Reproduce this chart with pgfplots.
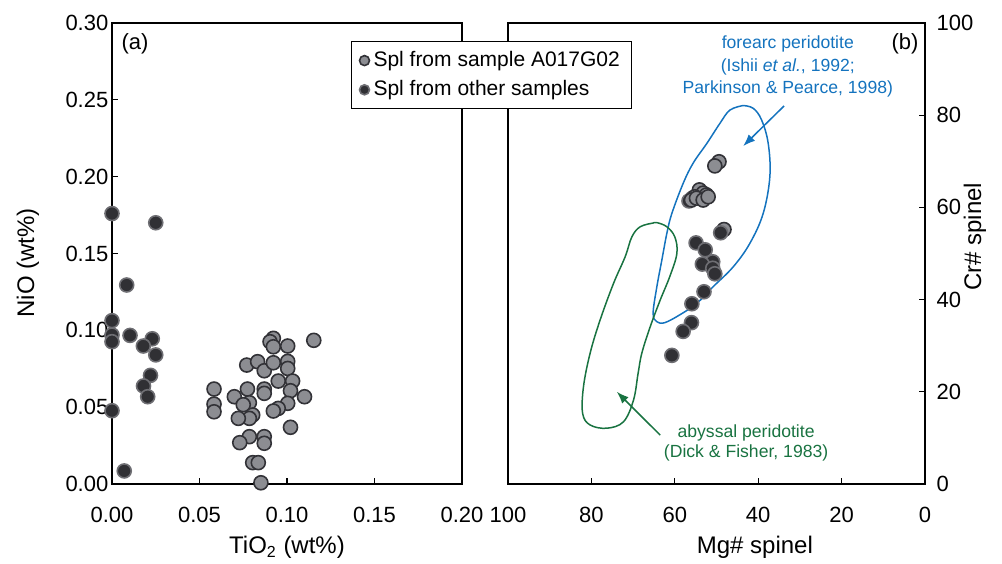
\documentclass[border=0pt]{standalone}
\usepackage{fontspec}
\setmainfont{Liberation Sans}
\usepackage{pgfplots}
\pgfplotsset{compat=1.18}
\usetikzlibrary{arrows.meta}
\definecolor{grayfill}{RGB}{140,141,146}
\definecolor{grayedge}{RGB}{50,50,55}
\definecolor{darkfill}{RGB}{48,48,52}
\definecolor{darkedge}{RGB}{110,110,115}
\definecolor{forearc}{RGB}{20,115,190}
\definecolor{abyssal}{RGB}{25,115,65}
\pgfplotsset{
  every axis/.append style={
    scale only axis, font=\fontsize{11}{13}\selectfont,
    tick align=inside, major tick length=3pt,
    axis line style={line width=0.75pt},
    every tick/.style={black, line width=0.6pt},
    /pgf/number format/assume math mode=true, clip=false,
    ticklabel style={font=\fontsize{11}{13}\selectfont},
    label style={font=\fontsize{12}{14}\selectfont},
  },
  samplA/.style={only marks, mark=*, mark size=3.5pt, mark options={fill=grayfill, draw=grayedge, line width=0.8pt}},
  samplB/.style={only marks, mark=*, mark size=3.5pt, mark options={fill=darkfill, draw=darkedge, line width=0.8pt}},
}
\begin{document}
\begin{tikzpicture}
\useasboundingbox (0,0) rectangle (501pt,281.5pt);
% ---------------- panel (a)
\begin{axis}[at={(56pt,39.5pt)}, anchor=south west, width=175pt, height=230.5pt,
  xmin=0, xmax=0.2, ymin=0, ymax=0.3,
  xtick={0,0.05,0.1,0.15,0.2}, xticklabels={0.00,0.05,0.10,0.15,0.20},
  ytick={0,0.05,0.1,0.15,0.2,0.25,0.3}, yticklabels={0.00,0.05,0.10,0.15,0.20,0.25,0.30},
  xtick pos=bottom, ytick pos=left,
  xticklabel style={yshift=-7.8pt}, yticklabel style={xshift=1.7pt},
  xlabel={TiO\textsubscript{2} (wt\%)}, ylabel={NiO (wt\%)},
  xlabel style={at={(axis description cs:0.5,-0.138)}, anchor=center},
  ylabel style={at={(axis description cs:-0.24,0.48)}, anchor=center},
]
\addplot[samplB] coordinates {
(0,0.176) (0.025,0.170) (0.0084,0.1295) (0,0.1063) (0,0.097) (0,0.0926)
(0.0103,0.0967) (0.023,0.0945) (0.0179,0.0898) (0.025,0.084) (0.022,0.0707)
(0.018,0.0638) (0.0204,0.0568) (0,0.0477) (0.007,0.0085)};
\addplot[samplA] coordinates {
(0.0583,0.0618) (0.0583,0.052) (0.0583,0.047) (0.0922,0.0948) (0.0903,0.0926)
(0.0922,0.0893) (0.1004,0.0898) (0.1153,0.0935) (0.077,0.0774) (0.0832,0.0796)
(0.087,0.0737) (0.0922,0.0789) (0.1004,0.0798) (0.1004,0.0752) (0.095,0.067)
(0.1032,0.067) (0.102,0.0607) (0.110,0.0568) (0.0774,0.0618) (0.087,0.0618)
(0.087,0.059) (0.0699,0.0568) (0.0785,0.0529) (0.075,0.0516) (0.1004,0.0525)
(0.095,0.0492) (0.0922,0.0475) (0.0804,0.0449) (0.0785,0.0427) (0.0722,0.0427)
(0.102,0.0369) (0.0785,0.0308) (0.073,0.0269) (0.087,0.0308) (0.087,0.0265)
(0.0804,0.0139) (0.0836,0.0139) (0.0851,0.0008)};
\node[font=\fontsize{11}{13}\selectfont] at (axis description cs:0.066,0.954) {(a)};
\end{axis}
% ---------------- panel (b)
\begin{axis}[at={(254pt,39.5pt)}, anchor=south west, width=208.5pt, height=230.5pt,
  xmin=0, xmax=100, ymin=0, ymax=100, x dir=reverse,
  xtick={0,20,40,60,80,100}, ytick={0,20,40,60,80,100},
  xtick pos=bottom, ytick pos=right, yticklabel pos=right,
  xticklabel style={yshift=-7.8pt}, yticklabel style={xshift=2.3pt},
  xlabel={Mg\# spinel}, ylabel={Cr\# spinel},
  xlabel style={at={(axis description cs:0.592,-0.138)}, anchor=center},
  ylabel style={at={(axis description cs:1.12,0.536)}, anchor=center, rotate=0},
  legend style={at={(axis description cs:-0.3765,0.961)}, anchor=north west,
    draw=black, line width=0.5pt, fill=white, inner xsep=4pt, inner ysep=3pt,
    font=\fontsize{10.5}{12.5}\selectfont, row sep=1.5pt},
  legend cell align=left,
  legend image code/.code={\draw[#1, mark size=2.5pt] plot coordinates {(0.12cm,0cm)};},
]
\addlegendimage{samplA}
\addlegendentry{Spl from sample A017G02}
\addlegendimage{samplB}
\addlegendentry{Spl from other samples}
% fields
\addplot[forearc, line width=0.75pt, smooth, tension=0.6, forget plot] coordinates {
(43.6,82.1) (46.8,81.1) (49.2,78.2) (52.3,73.9) (55.6,69.6) (58.0,65.2) (60.7,58.7)
(61.9,54.4) (63.1,48.6) (64.3,42.8) (65.2,37.0) (64.3,35.2) (62.4,35.0) (58.8,36.7)
(54.7,39.2) (50.8,42.8) (46.0,47.1) (42.0,52.2) (38.8,58.7) (37.2,66.7) (37.6,73.9)
(39.2,79.0) (41.2,81.5) (43.6,82.1)};
\addplot[abyssal, line width=0.75pt, smooth, tension=0.6, forget plot] coordinates {
(65.2,56.6) (68.3,55.8) (70.3,53.6) (71.9,49.3) (74.7,43.5) (77.9,35.6) (80.3,28.4)
(81.9,21.1) (82.1,15.3) (80.3,12.8) (76.3,12.1) (72.3,13.5) (69.9,18.2) (68.8,24.0)
(67.9,28.4) (65.9,34.1) (63.5,39.9) (61.2,45.0) (59.5,50.0) (60.0,53.6) (61.9,55.8)
(64.3,56.7) (65.2,56.6)};
\addplot[forearc, line width=0.75pt, -{Latex[length=6pt,width=4.5pt]}, forget plot] coordinates {(33.8,82.0) (43.6,73.3)};
\addplot[abyssal, line width=0.75pt, -{Latex[length=6pt,width=4.5pt]}, forget plot] coordinates {(63.5,10.6) (73.9,20.0)};
% points
\addplot[samplB, forget plot] coordinates {(56.6,61.4) (55.8,62.0)};
\addplot[samplA, forget plot] coordinates {
(49.4,69.9) (50.4,69.0) (54.1,63.8) (53.2,63.1) (52.4,62.7) (55.2,62.3) (56.0,61.6)
(54.8,62.0) (53.2,61.6) (52.0,62.3) (48.2,55.2)};
\addplot[samplB, forget plot] coordinates {
(49.0,54.5) (54.9,52.3) (52.7,50.8) (50.9,48.2) (53.4,47.7) (50.9,46.8) (50.4,45.6)
(53.0,41.7) (55.9,39.1) (56.0,35.0) (58.0,33.1) (60.7,27.9)};
\node[text=forearc, align=center, font=\fontsize{8.8}{11.25}\selectfont] at (axis cs:32.9,90.5)
  {forearc peridotite\\(Ishii \textit{et al.}, 1992;\\Parkinson \& Pearce, 1998)};
\node[text=abyssal, align=center, font=\fontsize{8.8}{10}\selectfont] at (axis cs:42.9,8.8)
  {abyssal peridotite\\(Dick \& Fisher, 1983)};
\node[font=\fontsize{11}{13}\selectfont] at (axis description cs:0.952,0.954) {(b)};
\end{axis}
\end{tikzpicture}
\end{document}
